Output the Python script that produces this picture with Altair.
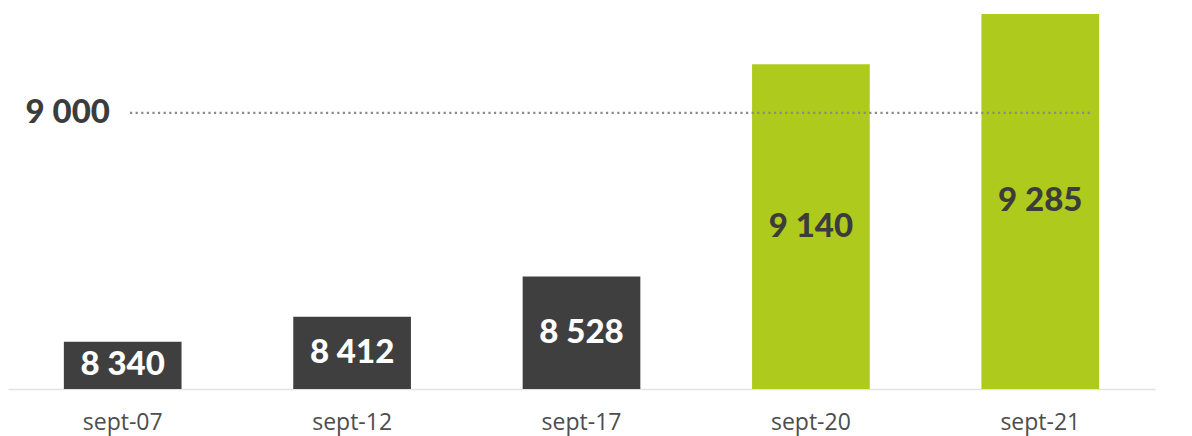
import altair as alt
import pandas as pd

categories = ["sept-07", "sept-12", "sept-17", "sept-20", "sept-21"]
values = [8340, 8412, 8528, 9140, 9285]
groups = ["past", "past", "past", "recent", "recent"]
ref_value = 9000
y_min = 8203.6
y_max = 9302.2

def fmt(v):
    return f"{v:,}".replace(",", " ")

df = pd.DataFrame({
    "cat": categories,
    "value": values,
    "group": groups,
    "label": [fmt(v) for v in values],
})
ref = pd.DataFrame({"v": [ref_value], "label": [fmt(ref_value)]})

W, H = 1147, 381

x = alt.X("cat:N", sort=categories, title=None,
          scale=alt.Scale(paddingInner=0.487, paddingOuter=0.2435),
          axis=alt.Axis(labelFont="Open Sans", labelFontSize=23, labelColor="#4d4d4d",
                        labelAngle=0, ticks=False, grid=False, domain=True,
                        domainColor="#e3e3e3", domainWidth=1.5,
                        labelPadding=33, labelBaseline="middle"))
yscale = alt.Scale(domain=[y_min, y_max], nice=False, zero=False)

bars = alt.Chart(df).mark_bar(clip=True).encode(
    x=x,
    y=alt.Y("value:Q", scale=yscale, axis=None),
    y2=alt.datum(y_min),
    color=alt.Color("group:N", scale=alt.Scale(domain=["past", "recent"], range=["#3f3f3f", "#adca1d"]), legend=None),
)

texts = alt.Chart(df).transform_calculate(
    mid=f"(datum.value + {y_min}) / 2"
).mark_text(font="Lato", fontWeight=900, fontSize=33, baseline="middle").encode(
    x=alt.X("cat:N", sort=categories),
    y=alt.Y("mid:Q", scale=yscale),
    text="label:N",
    color=alt.Color("group:N", scale=alt.Scale(domain=["past", "recent"], range=["#ffffff", "#3c3c3c"]), legend=None),
)

rule = alt.Chart(ref).mark_rule(color="#8a8a8a", strokeWidth=2.2, strokeDash=[2.2, 3.4]).encode(
    y=alt.Y("v:Q", scale=yscale),
    x=alt.value(122),
    x2=alt.value(1082),
)

ref_text = alt.Chart(ref).mark_text(font="Lato", fontWeight=900, fontSize=33, align="right",
                                     baseline="middle", color="#3c3c3c").encode(
    y=alt.Y("v:Q", scale=yscale),
    x=alt.value(102),
    text="label:N",
)

chart = alt.layer(bars, rule, texts, ref_text).resolve_scale(color="independent").properties(
    width=W, height=H,
    autosize=alt.AutoSizeParams(type="none"),
    padding={"left": 0, "top": 0, "right": 29, "bottom": 47},
).configure_view(stroke=None)

chart.save("out.html", embed_options={"renderer": "svg", "actions": False})
